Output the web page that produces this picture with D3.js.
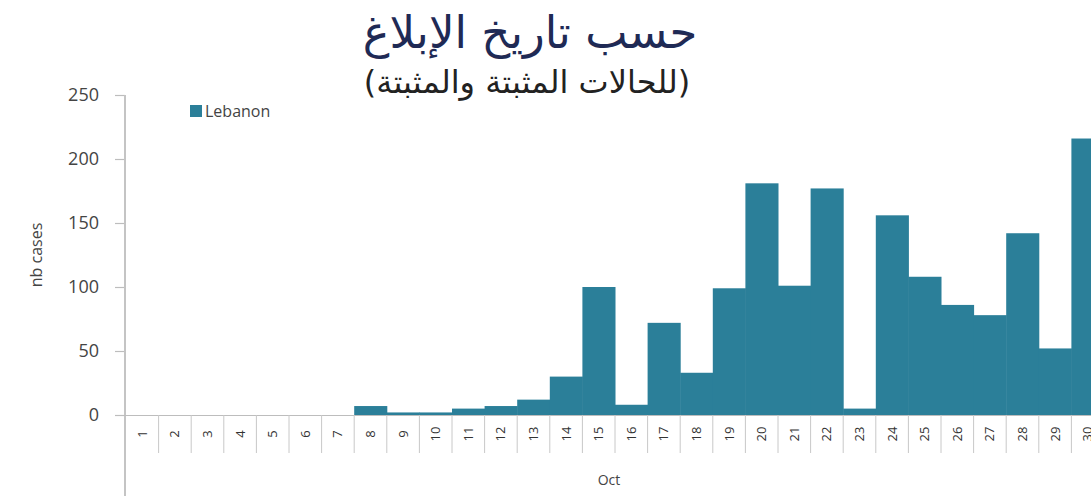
<!DOCTYPE html>
<html>
<head>
<meta charset="utf-8">
<script src="https://cdn.jsdelivr.net/npm/d3@7"></script>
<style>
  html, body { margin: 0; padding: 0; background: #fff; overflow: hidden; }
  svg { display: block; }
</style>
</head>
<body>
<svg id="chart" width="1091" height="496"></svg>
<script>
// ---- data ----
const days = d3.range(1, 31).map(String);
const lebanonCases = [0, 0, 0, 0, 0, 0, 0, 7, 2, 2, 5, 7, 12, 30, 100, 8, 72, 33, 99, 181, 101, 177, 5, 156, 108, 86, 78, 142, 52, 216];
const yTicks = [0, 50, 100, 150, 200, 250];
const titleText = "حسب تاريخ الإبلاغ";
const subtitleText = "(للحالات المثبتة والمثبتة)";
const seriesName = "Lebanon";
const xAxisTitle = "Oct";
const yAxisTitle = "nb cases";

// ---- layout ----
const svg = d3.select("#chart");
const x0 = 126, bandW = 32.6;
const x = d3.scaleBand().domain(days).range([x0, x0 + bandW * days.length]).padding(0);
const y = d3.scaleLinear().domain([0, 250]).range([415, 95]);
const barColor = "#2b7f99";

// bars
svg.append("g").selectAll("rect")
  .data(days.map((d, i) => ({ d, v: lebanonCases[i] })))
  .join("rect")
  .attr("x", p => x(p.d))
  .attr("width", x.bandwidth() + 0.5)
  .attr("y", p => y(p.v))
  .attr("height", p => y(0) - y(p.v))
  .attr("fill", barColor);

// y axis
const yAxis = svg.append("g").attr("transform", `translate(${x0 - 1},0)`)
  .call(d3.axisLeft(y).tickValues(yTicks).tickSize(10).tickPadding(16));
yAxis.select(".domain").remove();
yAxis.selectAll(".tick line").attr("stroke", "#bdbdbd").attr("stroke-width", 1.2);
yAxis.selectAll(".tick text")
  .attr("font-family", "Open Sans, Liberation Sans, sans-serif")
  .attr("font-size", 18).attr("fill", "#444");
svg.append("line")
  .attr("x1", x0 - 1).attr("x2", x0 - 1).attr("y1", y(250)).attr("y2", 496)
  .attr("stroke", "#c4c4c4").attr("stroke-width", 2);

// x axis
const xAxis = svg.append("g").attr("transform", `translate(0,${y(0)})`)
  .call(d3.axisBottom(x).tickSize(0).tickPadding(0));
xAxis.select(".domain").remove();
svg.append("line")
  .attr("x1", x0 - 10).attr("x2", 1091).attr("y1", y(0) + 0.5).attr("y2", y(0) + 0.5)
  .attr("stroke", "#bdbdbd").attr("stroke-width", 1.2);
// category separators
svg.append("g").selectAll("line")
  .data(days.slice(1))
  .join("line")
  .attr("x1", d => x(d)).attr("x2", d => x(d))
  .attr("y1", y(0)).attr("y2", y(0) + 38)
  .attr("stroke", "#c8c8c8").attr("stroke-width", 1);
xAxis.selectAll(".tick text")
  .attr("transform", "rotate(-90)")
  .attr("text-anchor", "middle")
  .attr("x", -19).attr("y", 0).attr("dy", "0.35em")
  .attr("font-family", "Open Sans, Liberation Sans, sans-serif")
  .attr("font-size", 13).attr("fill", "#333");

// axis titles
svg.append("text")
  .attr("transform", "translate(36,255) rotate(-90)")
  .attr("text-anchor", "middle").attr("dy", "0.35em")
  .attr("font-family", "Open Sans, Liberation Sans, sans-serif")
  .attr("font-size", 16).attr("fill", "#444")
  .text(yAxisTitle);
svg.append("text")
  .attr("x", 609).attr("y", 480).attr("text-anchor", "middle").attr("dy", "0.35em")
  .attr("font-family", "Open Sans, Liberation Sans, sans-serif")
  .attr("font-size", 14).attr("fill", "#444")
  .text(xAxisTitle);

// legend
svg.append("rect").attr("x", 190).attr("y", 105).attr("width", 12).attr("height", 12).attr("fill", barColor);
svg.append("text").attr("x", 205).attr("y", 111).attr("dy", "0.35em")
  .attr("font-family", "Open Sans, Liberation Sans, sans-serif")
  .attr("font-size", 16).attr("fill", "#444")
  .text(seriesName);

// titles
svg.append("text").attr("x", 530).attr("y", 32).attr("dy", "0.35em")
  .attr("text-anchor", "middle").attr("direction", "rtl")
  .attr("font-family", "DejaVu Sans, Noto Sans, sans-serif")
  .attr("font-size", 45).attr("fill", "#1f2a55")
  .text(titleText);
svg.append("text").attr("x", 527).attr("y", 82).attr("dy", "0.35em")
  .attr("text-anchor", "middle").attr("direction", "rtl")
  .attr("font-family", "DejaVu Sans, Noto Sans, sans-serif")
  .attr("font-size", 32).attr("fill", "#222")
  .text(subtitleText);
</script>
</body>
</html>
